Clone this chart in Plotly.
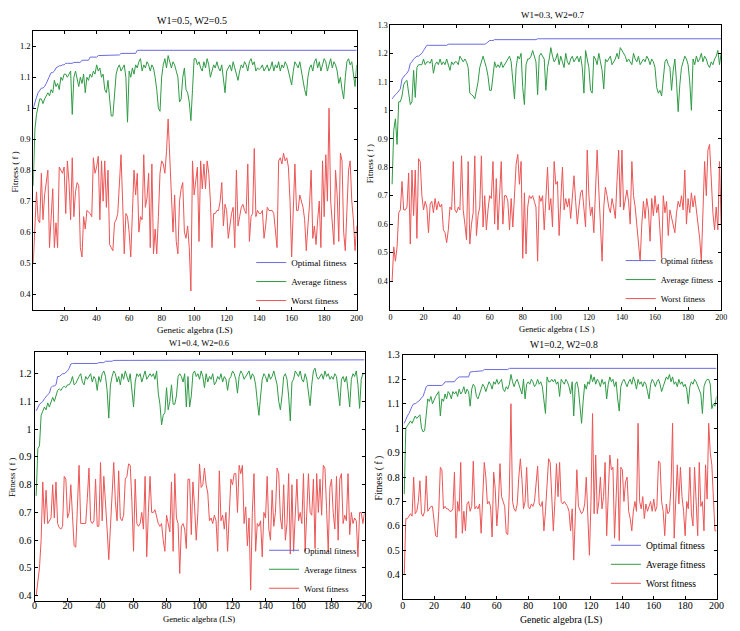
import plotly.graph_objects as go

W = 740
H = 631

# ---------------- data ----------------
titles = ["W1=0.5, W2=0.5", "W1=0.3, W2=0.7", "W1=0.4, W2=0.6", "W1=0.2, W2=0.8"]
series_names = ["Optimal fitness", "Average fitness", "Worst fitness"]

# Panel 1: W1=0.5, W2=0.5
p1_opt = ([1.00, 1.02, 1.035, 1.05, 1.06, 1.065, 1.065, 1.07, 1.08, 1.09,
           1.105, 1.115, 1.115, 1.12, 1.13, 1.135, 1.137, 1.137, 1.14, 1.14]
          + [1.145] * 5 + [1.148] * 5 + [1.155] * 5 + [1.165] * 5 + [1.17] * 5
          + [1.172] * 9 + [1.177] * 10 + [1.187] * 136)
p1_avg = [0.75, 0.93, 0.98, 1.01, 1.03, 1.03, 1.015, 1.03, 1.04, 1.05,
          1.04, 1.06, 1.05, 1.09, 1.07, 1.08, 1.06, 1.10, 1.09, 1.11,
          1.11, 1.10, 1.11, 1.12, 0.98, 1.10, 1.12, 1.09, 1.07, 1.10,
          1.08, 1.11, 1.05, 1.10, 1.09, 1.11, 1.10, 1.12, 1.11, 1.14,
          1.12, 1.13, 1.10, 1.11, 1.06, 1.05, 1.09, 1.03, 0.975, 0.975,
          1.03, 1.11, 1.13, 1.14, 1.12, 1.13, 1.14, 1.10, 0.955, 1.12,
          1.10, 1.13, 1.11, 1.14, 1.13, 1.15, 1.16, 1.12, 1.14, 1.13,
          1.15, 1.14, 1.12, 1.14, 1.13, 1.10, 1.06, 1.00, 0.99, 1.10,
          1.14, 1.16, 1.13, 1.17, 1.15, 1.13, 1.15, 1.14, 1.12, 1.10,
          1.02, 1.03, 1.10, 1.13, 1.06, 1.05, 1.02, 0.96, 1.06, 1.16,
          1.16, 1.14, 1.15, 1.13, 1.12, 1.15, 1.13, 1.16, 1.14, 1.10,
          1.12, 1.14, 1.13, 1.15, 1.13, 1.12, 1.14, 1.10, 1.05, 1.12,
          1.13, 1.14, 1.12, 1.15, 1.13, 1.11, 1.09, 1.12, 1.14, 1.13,
          1.15, 1.14, 1.12, 1.15, 1.16, 1.14, 1.15, 1.12, 1.13, 1.125,
          1.13, 1.14, 1.12, 1.13, 1.14, 1.12, 1.13, 1.15, 1.12, 1.14,
          1.13, 1.15, 1.12, 1.14, 1.13, 1.15, 1.14, 1.12, 1.10, 1.075,
          1.12, 1.15, 1.14, 1.13, 1.15, 1.12, 1.08, 1.06, 1.04, 1.10,
          1.13, 1.14, 1.12, 1.15, 1.16, 1.13, 1.15, 1.12, 1.14, 1.16,
          1.15, 1.12, 1.14, 1.16, 1.13, 1.15, 1.14, 1.12, 1.08, 1.10,
          1.06, 1.03, 1.10, 1.15, 1.16, 1.14, 1.15, 1.10, 1.07, 1.14]
p1_worst = [0.50, 0.64, 0.73, 0.64, 0.63, 0.79, 0.64, 0.72, 0.77, 0.80,
            0.55, 0.66, 0.74, 0.55, 0.63, 0.55, 0.81, 0.80, 0.79, 0.81,
            0.66, 0.83, 0.76, 0.64, 0.84, 0.65, 0.73, 0.76, 0.75, 0.55,
            0.52, 0.65, 0.61, 0.67, 0.665, 0.66, 0.65, 0.84, 0.79, 0.81,
            0.845, 0.64, 0.83, 0.70, 0.83, 0.68, 0.80, 0.56, 0.55, 0.54,
            0.63, 0.64, 0.66, 0.77, 0.85, 0.70, 0.53, 0.66, 0.65, 0.60,
            0.52, 0.66, 0.80, 0.72, 0.79, 0.60, 0.65, 0.64, 0.85, 0.68,
            0.71, 0.79, 0.55, 0.82, 0.53, 0.61, 0.53, 0.65, 0.79, 0.83,
            0.82, 0.79, 0.86, 0.965, 0.85, 0.70, 0.60, 0.72, 0.57, 0.53,
            0.70, 0.74, 0.76, 0.60, 0.58, 0.62, 0.55, 0.41, 0.83, 0.72,
            0.76, 0.81, 0.57, 0.83, 0.74, 0.82, 0.74, 0.83, 0.79, 0.70,
            0.55, 0.66, 0.66, 0.67, 0.67, 0.70, 0.76, 0.62, 0.69, 0.67,
            0.58, 0.63, 0.66, 0.68, 0.55, 0.80, 0.62, 0.65, 0.68, 0.69,
            0.67, 0.66, 0.82, 0.57, 0.65, 0.66, 0.87, 0.65, 0.67, 0.66,
            0.66, 0.67, 0.58, 0.62, 0.68, 0.67, 0.67, 0.67, 0.66, 0.60,
            0.55, 0.83, 0.84, 0.82, 0.855, 0.83, 0.84, 0.81, 0.70, 0.52,
            0.71, 0.82, 0.67, 0.67, 0.72, 0.70, 0.68, 0.64, 0.54, 0.62,
            0.69, 0.80, 0.58, 0.62, 0.56, 0.64, 0.70, 0.55, 0.83, 0.65,
            0.85, 0.70, 1.00, 0.70, 0.63, 0.56, 0.80, 0.72, 0.57, 0.855,
            0.83, 0.60, 0.54, 0.67, 0.80, 0.83, 0.70, 0.64, 0.54, 0.62]

# Panel 2: W1=0.3, W2=0.7
p2_opt = ([1.04, 1.05, 1.055, 1.06, 1.07, 1.075, 1.11, 1.12, 1.125, 1.13, 1.14,
           1.165, 1.17, 1.18, 1.185, 1.19, 1.19, 1.195, 1.20, 1.21, 1.22, 1.228]
          + [1.228] * 12 + [1.232] * 23 + [1.235, 1.24] + [1.245] * 3
          + [1.248] * 26 + [1.251] * 112)
p2_avg = [0.74, 0.93, 0.97, 0.88, 1.03, 1.03, 1.05, 1.09, 1.10, 1.105,
          1.06, 1.02, 1.03, 1.14, 1.045, 1.15, 1.16, 1.16, 1.16, 1.18,
          1.16, 1.17, 1.17, 1.165, 1.18, 1.13, 1.16, 1.17, 1.16, 1.18,
          1.16, 1.17, 1.16, 1.18, 1.16, 1.14, 1.17, 1.16, 1.17, 1.17,
          1.16, 1.19, 1.18, 1.17, 1.18, 1.17, 1.15, 1.06, 1.055, 1.05,
          1.04, 1.07, 1.10, 1.15, 1.17, 1.19, 1.17, 1.15, 1.12, 1.07,
          1.07, 1.12, 1.17, 1.15, 1.16, 1.15, 1.17, 1.15, 1.16, 1.17,
          1.18, 1.19, 1.17, 1.10, 1.04, 1.15, 1.19, 1.18, 1.20, 1.08,
          1.02, 1.16, 1.18, 1.18, 1.19, 1.21, 1.19, 1.17, 1.055, 1.19,
          1.20, 1.19, 1.18, 1.07, 1.15, 1.18, 1.22, 1.19, 1.17, 1.18,
          1.20, 1.16, 1.19, 1.17, 1.15, 1.20, 1.17, 1.16, 1.18, 1.19,
          1.17, 1.18, 1.19, 1.17, 1.19, 1.15, 1.06, 1.21, 1.18, 1.15,
          1.07, 1.06, 1.19, 1.18, 1.16, 1.20, 1.17, 1.14, 1.075, 1.18,
          1.17, 1.18, 1.19, 1.16, 1.17, 1.18, 1.20, 1.18, 1.22, 1.21,
          1.20, 1.19, 1.17, 1.18, 1.17, 1.16, 1.20, 1.18, 1.17, 1.19,
          1.16, 1.17, 1.18, 1.17, 1.19, 1.18, 1.16, 1.18, 1.17, 1.15,
          1.08, 1.06, 1.07, 1.05, 1.12, 1.17, 1.18, 1.16, 1.15, 1.07,
          1.14, 1.18, 1.10, 0.995, 1.09, 1.15, 1.17, 1.19, 1.18, 1.16,
          1.10, 1.00, 1.18, 1.16, 1.19, 1.17, 1.18, 1.20, 1.17, 1.19,
          1.18, 1.16, 1.15, 1.17, 1.16, 1.18, 1.19, 1.21, 1.16, 1.20]
p2_worst = [0.40, 0.52, 0.47, 0.52, 0.64, 0.65, 0.75, 0.65, 0.65, 0.66,
            0.78, 0.53, 0.79, 0.63, 0.79, 0.55, 0.83, 0.82, 0.70, 0.65,
            0.68, 0.66, 0.57, 0.67, 0.68, 0.64, 0.69, 0.65, 0.68, 0.66,
            0.67, 0.58, 0.57, 0.535, 0.58, 0.66, 0.65, 0.82, 0.65, 0.64,
            0.66, 0.65, 0.84, 0.65, 0.60, 0.545, 0.82, 0.53, 0.60, 0.64,
            0.84, 0.56, 0.63, 0.66, 0.84, 0.59, 0.70, 0.58, 0.65, 0.70,
            0.69, 0.82, 0.60, 0.76, 0.58, 0.68, 0.82, 0.60, 0.70, 0.70,
            0.68, 0.58, 0.69, 0.59, 0.72, 0.81, 0.845, 0.74, 0.82, 0.48,
            0.71, 0.495, 0.66, 0.70, 0.69, 0.70, 0.68, 0.66, 0.47, 0.70,
            0.68, 0.70, 0.58, 0.72, 0.80, 0.65, 0.69, 0.59, 0.82, 0.74,
            0.75, 0.56, 0.68, 0.80, 0.65, 0.69, 0.66, 0.69, 0.62, 0.70,
            0.77, 0.68, 0.60, 0.66, 0.71, 0.72, 0.65, 0.59, 0.86, 0.70,
            0.63, 0.66, 0.57, 0.70, 0.86, 0.72, 0.60, 0.47, 0.66, 0.73,
            0.70, 0.66, 0.64, 0.69, 0.66, 0.62, 0.75, 0.86, 0.66, 0.86,
            0.65, 0.68, 0.72, 0.68, 0.60, 0.82, 0.70, 0.66, 0.60, 0.55,
            0.47, 0.60, 0.68, 0.62, 0.69, 0.65, 0.54, 0.69, 0.63, 0.70,
            0.64, 0.67, 0.56, 0.48, 0.70, 0.64, 0.68, 0.56, 0.65, 0.62,
            0.60, 0.57, 0.64, 0.68, 0.66, 0.70, 0.65, 0.79, 0.60, 0.69,
            0.64, 0.71, 0.66, 0.70, 0.65, 0.60, 0.55, 0.47, 0.66, 0.82,
            0.70, 0.86, 0.88, 0.74, 0.64, 0.58, 0.66, 0.58, 0.82, 0.60]

# Panel 3: W1=0.4, W2=0.6
p3_opt = ([1.066, 1.08, 1.09, 1.095, 1.10, 1.11, 1.12, 1.125, 1.13, 1.15, 1.156,
           1.156, 1.16, 1.19, 1.19, 1.195, 1.20, 1.20, 1.205, 1.21, 1.22, 1.235]
          + [1.237] * 16 + [1.24] * 4 + [1.245] * 5 + [1.248] * 18 + [1.25] * 135)
p3_avg = [0.76, 0.93, 0.94, 1.05, 1.065, 1.08, 1.07, 1.095, 1.08, 1.10,
          1.115, 1.10, 1.12, 1.14, 1.145, 1.14, 1.15, 1.155, 1.15, 1.16,
          1.16, 1.17, 1.19, 1.16, 1.165, 1.18, 1.19, 1.20, 1.17, 1.16,
          1.19, 1.18, 1.19, 1.20, 1.17, 1.19, 1.18, 1.14, 1.19, 1.17,
          1.20, 1.21, 1.19, 1.14, 1.04, 1.16, 1.19, 1.21, 1.20, 1.17,
          1.19, 1.16, 1.20, 1.18, 1.21, 1.19, 1.17, 1.20, 1.13, 1.08,
          1.17, 1.20, 1.19, 1.20, 1.17, 1.19, 1.21, 1.18, 1.19, 1.20,
          1.19, 1.20, 1.18, 1.21, 1.13, 1.09, 1.016, 1.05, 1.06, 1.15,
          1.07, 1.10, 1.16, 1.09, 1.09, 1.12, 1.19, 1.20, 1.19, 1.17,
          1.20, 1.08, 1.19, 1.08, 1.12, 1.20, 1.21, 1.19, 1.20, 1.18,
          1.21, 1.19, 1.15, 1.20, 1.17, 1.19, 1.18, 1.20, 1.16, 1.17,
          1.19, 1.18, 1.20, 1.17, 1.19, 1.18, 1.14, 1.18, 1.19, 1.21,
          1.20, 1.18, 1.13, 1.19, 1.21, 1.20, 1.18, 1.19, 1.20, 1.21,
          1.18, 1.20, 1.19, 1.16, 1.10, 1.05, 1.12, 1.18, 1.20, 1.19,
          1.17, 1.20, 1.18, 1.19, 1.21, 1.18, 1.16, 1.10, 1.07, 1.12,
          1.19, 1.20, 1.18, 1.12, 1.03, 1.17, 1.18, 1.21, 1.20, 1.19,
          1.21, 1.18, 1.17, 1.20, 1.18, 1.13, 1.085, 1.16, 1.21, 1.22,
          1.19, 1.18, 1.19, 1.20, 1.18, 1.21, 1.19, 1.20, 1.18, 1.19,
          1.18, 1.20, 1.19, 1.13, 1.085, 1.18, 1.19, 1.17, 1.19, 1.14,
          1.08, 1.18, 1.20, 1.19, 1.21, 1.16, 1.075, 1.18, 1.20, 1.20]
p3_worst = [0.40, 0.45, 0.50, 0.60, 0.81, 0.66, 0.78, 0.66, 0.67, 0.68,
            0.80, 0.68, 0.81, 0.66, 0.645, 0.64, 0.65, 0.83, 0.82, 0.68,
            0.70, 0.80, 0.69, 0.58, 0.575, 0.70, 0.87, 0.66, 0.66, 0.66,
            0.66, 0.75, 0.86, 0.67, 0.66, 0.67, 0.82, 0.65, 0.65, 0.88,
            0.67, 0.83, 0.71, 0.64, 0.53, 0.66, 0.76, 0.88, 0.74, 0.67,
            0.85, 0.68, 0.67, 0.69, 0.82, 0.83, 0.875, 0.87, 0.74, 0.56,
            0.82, 0.66, 0.65, 0.66, 0.70, 0.64, 0.83, 0.54, 0.70, 0.83,
            0.70, 0.70, 0.71, 0.68, 0.66, 0.65, 0.66, 0.60, 0.56, 0.69,
            0.66, 0.63, 0.81, 0.56, 0.84, 0.68, 0.66, 0.48, 0.65, 0.66,
            0.64, 0.57, 0.82, 0.82, 0.62, 0.81, 0.72, 0.60, 0.70, 0.875,
            0.79, 0.80, 0.86, 0.80, 0.77, 0.67, 0.68, 0.66, 0.69, 0.67,
            0.56, 0.85, 0.67, 0.69, 0.64, 0.70, 0.56, 0.69, 0.82, 0.80,
            0.84, 0.84, 0.70, 0.87, 0.84, 0.87, 0.66, 0.72, 0.58, 0.68,
            0.42, 0.70, 0.84, 0.56, 0.66, 0.65, 0.67, 0.54, 0.70, 0.68,
            0.83, 0.64, 0.60, 0.78, 0.65, 0.70, 0.86, 0.84, 0.68, 0.64,
            0.80, 0.60, 0.66, 0.84, 0.55, 0.80, 0.56, 0.69, 0.82, 0.67,
            0.70, 0.66, 0.84, 0.56, 0.69, 0.84, 0.70, 0.69, 0.82, 0.57,
            0.84, 0.70, 0.82, 0.69, 0.87, 0.86, 0.71, 0.56, 0.79, 0.82,
            0.70, 0.64, 0.83, 0.60, 0.82, 0.84, 0.66, 0.69, 0.67, 0.84,
            0.62, 0.70, 0.66, 0.68, 0.67, 0.54, 0.70, 0.70, 0.66, 0.70]

# Panel 4: W1=0.2, W2=0.8
p4_opt = ([1.02, 1.04, 1.05, 1.06, 1.08, 1.09, 1.10, 1.10, 1.105, 1.11, 1.115,
           1.125, 1.13, 1.15, 1.17]
          + [1.175] * 10 + [1.18] + [1.19] * 7 + [1.20, 1.205] + [1.21] * 7
          + [1.23] + [1.232] * 7 + [1.235] + [1.24] * 16 + [1.245] * 133)
p4_avg = [0.73, 1.00, 1.01, 1.02, 1.03, 1.02, 1.04, 1.05, 1.04, 1.05,
          1.055, 1.00, 0.985, 0.99, 1.06, 1.12, 1.11, 1.13, 1.10, 1.12,
          1.13, 1.14, 1.15, 1.05, 1.12, 1.11, 1.14, 1.12, 1.15, 1.14,
          1.12, 1.15, 1.14, 1.15, 1.13, 1.16, 1.14, 1.15, 1.17, 1.14,
          1.16, 1.15, 1.09, 1.16, 1.18, 1.17, 1.13, 1.12, 1.14, 1.16,
          1.18, 1.17, 1.15, 1.17, 1.19, 1.18, 1.16, 1.19, 1.18, 1.20,
          1.18, 1.19, 1.20, 1.16, 1.15, 1.17, 1.16, 1.18, 1.22, 1.19,
          1.17, 1.19, 1.20, 1.18, 1.16, 1.14, 1.20, 1.12, 1.18, 1.19,
          1.18, 1.20, 1.19, 1.17, 1.18, 1.20, 1.18, 1.19, 1.17, 1.12,
          1.06, 1.21, 1.19, 1.19, 1.20, 1.19, 1.20, 1.18, 1.19, 1.13,
          1.20, 1.19, 1.18, 1.20, 1.19, 1.17, 1.14, 1.19, 1.05, 1.18,
          1.19, 1.16, 1.10, 1.02, 1.11, 1.18, 1.16, 1.19, 1.18, 1.22,
          1.19, 1.21, 1.18, 1.20, 1.19, 1.17, 1.20, 1.18, 1.19, 1.12,
          1.18, 1.21, 1.19, 1.20, 1.17, 1.19, 1.12, 1.07, 1.17, 1.19,
          1.20, 1.18, 1.17, 1.19, 1.20, 1.18, 1.21, 1.19, 1.16, 1.20,
          1.18, 1.19, 1.17, 1.19, 1.18, 1.15, 1.12, 1.18, 1.20, 1.19,
          1.17, 1.19, 1.20, 1.18, 1.15, 1.17, 1.19, 1.21, 1.20, 1.22,
          1.19, 1.21, 1.18, 1.19, 1.17, 1.20, 1.18, 1.19, 1.17, 1.18,
          1.16, 1.10, 1.17, 1.19, 1.18, 1.20, 1.19, 1.17, 1.16, 1.14,
          1.06, 1.17, 1.19, 1.20, 1.20, 1.18, 1.08, 1.10, 1.09, 1.13]
p4_worst = [0.40, 0.63, 0.63, 0.64, 0.65, 0.64, 0.80, 0.65, 0.66, 0.70,
            0.785, 0.65, 0.64, 0.66, 0.805, 0.66, 0.67, 0.68, 0.68, 0.62,
            0.56, 0.555, 0.66, 0.84, 0.83, 0.67, 0.68, 0.67, 0.67, 0.66,
            0.66, 0.67, 0.82, 0.55, 0.70, 0.66, 0.86, 0.57, 0.66, 0.58,
            0.69, 0.70, 0.66, 0.68, 0.865, 0.67, 0.68, 0.67, 0.69, 0.57,
            0.70, 0.86, 0.80, 0.69, 0.70, 0.68, 0.555, 0.82, 0.75, 0.60,
            0.69, 0.855, 0.72, 0.70, 0.68, 0.57, 0.565, 0.75, 1.10, 0.70,
            0.67, 0.66, 0.69, 0.80, 0.875, 0.79, 0.67, 0.70, 0.84, 0.68,
            0.67, 0.69, 0.68, 0.70, 0.78, 0.845, 0.69, 0.68, 0.70, 0.58,
            0.66, 0.78, 0.875, 0.86, 0.68, 0.58, 0.70, 0.855, 0.72, 0.86,
            0.70, 0.69, 0.70, 0.69, 0.68, 0.66, 0.58, 0.67, 0.46, 0.64,
            0.83, 0.68, 0.66, 0.65, 0.66, 0.69, 0.80, 0.66, 0.48, 0.70,
            1.06, 0.65, 0.89, 0.65, 0.70, 0.80, 0.67, 0.72, 0.86, 0.56,
            0.70, 0.89, 0.83, 0.84, 0.55, 0.70, 0.875, 0.54, 0.84, 0.83,
            0.70, 0.78, 0.80, 0.66, 0.63, 0.58, 0.66, 0.70, 0.66, 1.02,
            0.70, 0.67, 0.72, 0.63, 0.69, 0.66, 0.68, 0.70, 0.66, 0.71,
            0.66, 0.68, 0.865, 0.86, 0.70, 0.66, 0.56, 0.69, 0.65, 0.66,
            0.76, 1.02, 0.55, 0.70, 0.85, 0.69, 0.84, 0.72, 0.66, 0.56,
            0.70, 0.67, 0.84, 0.65, 0.60, 0.84, 0.70, 0.56, 0.86, 0.68,
            0.70, 0.58, 0.85, 0.71, 1.02, 0.90, 0.85, 0.70, 0.58, 0.58]

x_ticks_p1 = [20, 40, 60, 80, 100, 120, 140, 160, 180, 200]
x_ticks_full = [0, 20, 40, 60, 80, 100, 120, 140, 160, 180, 200]
y_ticks_12 = [0.4, 0.5, 0.6, 0.7, 0.8, 0.9, 1.0, 1.1, 1.2]
y_ticks_13 = [0.4, 0.5, 0.6, 0.7, 0.8, 0.9, 1.0, 1.1, 1.2, 1.3]

# ---------------- style / layout ----------------
FONT = "Liberation Serif"
colors = ["#6b6be0", "#2f9a45", "#ec5555"]

panels = [
    dict(opt=p1_opt, avg=p1_avg, worst=p1_worst,
         xdom=[30.7, 359], ydom=[26, 307], xr=[1, 200], yr=[0.35, 1.25],
         xt=x_ticks_p1, yt=y_ticks_12, fs=8.5, tfs=10, afs=9, lfs=9, so=0,
         title_xy=(192, 16), xt_xy=(194, 328), yt_xy=(12, 168), xlabel="Genetic algebra (LS)",
         leg_xy=(252, 245)),
    dict(opt=p2_opt, avg=p2_avg, worst=p2_worst,
         xdom=[393.3, 729], ydom=[20, 307], xr=[0, 200], yr=[0.3, 1.3],
         xt=x_ticks_full, yt=y_ticks_13, fs=8, tfs=9, afs=8.5, lfs=8.5, so=0,
         title_xy=(558, 10), xt_xy=(562, 327), yt_xy=(372, 160), xlabel="Genetic algebra ( LS )",
         leg_xy=(627, 243)),
    dict(opt=p3_opt, avg=p3_avg, worst=p3_worst,
         xdom=[32, 367], ydom=[349.3, 601], xr=[0, 200], yr=[0.38, 1.28],
         xt=x_ticks_full, yt=y_ticks_12, fs=10, tfs=8.6, afs=8.6, lfs=8.5, so=-5,
         title_xy=(199, 340.7), xt_xy=(199, 619), yt_xy=(9, 476), xlabel="Genetic algebra (LS)",
         leg_xy=(265, 535)),
    dict(opt=p4_opt, avg=p4_avg, worst=p4_worst,
         xdom=[405.7, 724.3], ydom=[352.7, 599], xr=[0, 200], yr=[0.3, 1.3],
         xt=x_ticks_full, yt=y_ticks_13, fs=10, tfs=9.7, afs=9.8, lfs=9.6, so=-3,
         title_xy=(569, 342.7), xt_xy=(566, 620), yt_xy=(382, 477), xlabel="Genetic algebra (LS)",
         leg_xy=(612, 530)),
]


def px_x(v):
    return v / W


def px_y(v):
    return 1 - v / H


fig = go.Figure()
layout = dict(width=W, height=H, margin=dict(l=0, r=0, t=0, b=0),
              paper_bgcolor="white", plot_bgcolor="white",
              font=dict(family=FONT, color="black"), showlegend=True)
annotations = []

for i, p in enumerate(panels):
    n = "" if i == 0 else str(i + 1)
    xa, ya = "x" + n, "y" + n
    leg = "legend" + n
    for name, key, col in zip(series_names, ["opt", "avg", "worst"], colors):
        vals = p[key]
        fig.add_trace(go.Scatter(
            x=list(range(1, len(vals) + 1)), y=vals, mode="lines", name=name,
            line=dict(color=col, width=1), xaxis=xa, yaxis=ya, legend=leg,
            hoverinfo="skip"))
    axis_common = dict(showline=True, linecolor="black", linewidth=1, mirror="ticks",
                       ticks="inside", ticklen=3, tickcolor="black", tickwidth=1,
                       showgrid=False, zeroline=False,
                       tickfont=dict(family=FONT, size=p["fs"], color="black"))
    layout["xaxis" + n] = dict(axis_common, domain=[px_x(p["xdom"][0]), px_x(p["xdom"][1])],
                               range=p["xr"], tickvals=p["xt"], ticklabelstandoff=p["so"],
                               ticktext=[str(t) for t in p["xt"]], anchor=ya)
    layout["yaxis" + n] = dict(axis_common, domain=[px_y(p["ydom"][1]), px_y(p["ydom"][0])],
                               range=p["yr"], tickvals=p["yt"],
                               ticktext=[("%g" % t) for t in p["yt"]], anchor=xa)
    layout[leg] = dict(x=px_x(p["leg_xy"][0]), y=px_y(p["leg_xy"][1]), xanchor="left",
                       yanchor="top", bgcolor="rgba(0,0,0,0)", borderwidth=0,
                       traceorder="normal",
                       font=dict(family=FONT, size=p["lfs"], color="black"),
                       itemwidth=30, tracegroupgap=0)
    annotations.append(dict(text=titles[i], x=px_x(p["title_xy"][0]), y=px_y(p["title_xy"][1]),
                            xref="paper", yref="paper", showarrow=False,
                            xanchor="center", yanchor="middle",
                            font=dict(family=FONT, size=p["tfs"], color="black")))
    annotations.append(dict(text=p["xlabel"], x=px_x(p["xt_xy"][0]), y=px_y(p["xt_xy"][1]),
                            xref="paper", yref="paper", showarrow=False,
                            xanchor="center", yanchor="middle",
                            font=dict(family=FONT, size=p["afs"], color="black")))
    annotations.append(dict(text="Fitness ( f )", x=px_x(p["yt_xy"][0]), y=px_y(p["yt_xy"][1]),
                            xref="paper", yref="paper", showarrow=False, textangle=-90,
                            xanchor="center", yanchor="middle",
                            font=dict(family=FONT, size=p["afs"], color="black")))

layout["annotations"] = annotations
fig.update_layout(**layout)
# remove the browser's default 8px body margin so the figure sits at the page origin
fig.write_html("out.html", config={"displayModeBar": False},
               post_script="document.body.style.margin='0';")
